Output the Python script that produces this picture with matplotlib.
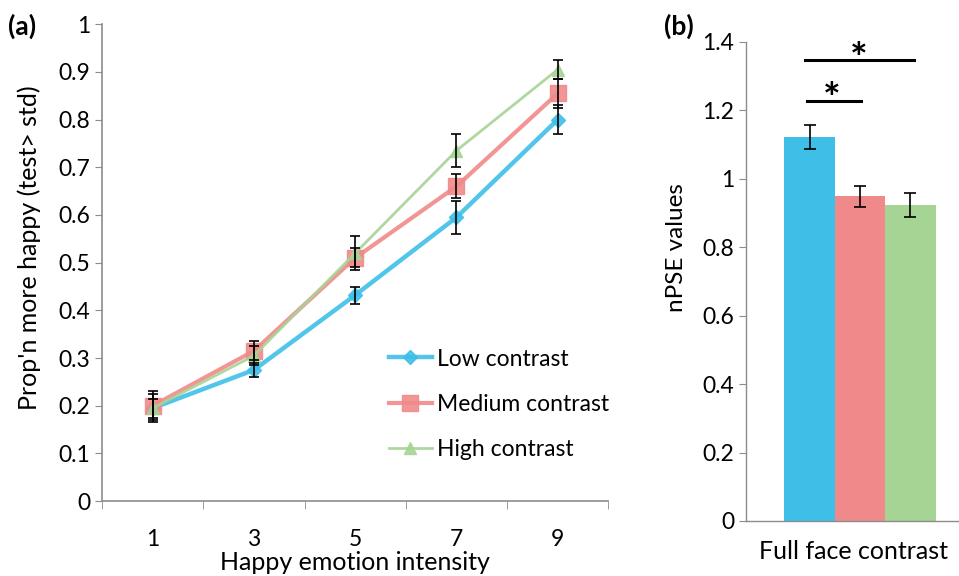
import matplotlib.pyplot as plt

plt.rcParams['font.family'] = ['Lato', 'DejaVu Sans']

# panel (a) data
intensity = ["1", "3", "5", "7", "9"]
low = [0.195, 0.275, 0.432, 0.595, 0.800]
low_err = [0.030, 0.015, 0.018, 0.035, 0.030]
medium = [0.200, 0.315, 0.510, 0.660, 0.855]
medium_err = [0.030, 0.020, 0.020, 0.025, 0.030]
high = [0.195, 0.305, 0.520, 0.735, 0.905]
high_err = [0.020, 0.020, 0.035, 0.035, 0.020]

# panel (b) data
conditions = ["Low contrast", "Medium contrast", "High contrast"]
npse = [1.123, 0.948, 0.922]
npse_err = [0.035, 0.030, 0.035]

blue = "#3EBFE8"
red = "#F08A8A"
green = "#A6D495"
axis_grey = "#8c8c8c"

fig = plt.figure(figsize=(9.59, 5.76), dpi=100)

# ---- panel (a)
ax = fig.add_axes([0.1064, 0.130, 0.528, 0.828])
xs = list(range(1, len(intensity) + 1))
series = [
    (low, low_err, blue, "D", 7, 3.2, "Low contrast"),
    (medium, medium_err, red, "s", 12, 3.0, "Medium contrast"),
    (high, high_err, green, "^", 9, 2.0, "High contrast"),
]
for vals, errs, col, mk, ms, lw, lab in series:
    ax.plot(xs, vals, color=col, marker=mk, markersize=ms, linewidth=lw,
            label=lab, alpha=0.9, zorder=2)
    ax.errorbar(xs, vals, yerr=errs, fmt="none", ecolor="black",
                elinewidth=1.2, capsize=3.5, capthick=1.2, zorder=3)

ax.set_xlim(0.5, len(intensity) + 0.5)
ax.set_ylim(0, 1)
ax.set_yticks([i / 10 for i in range(11)])
ax.set_yticklabels(["0"] + [f"{i / 10:.1f}" for i in range(1, 10)] + ["1"])
ax.set_xticks(xs)
ax.set_xticklabels(intensity)
ax.set_xticks([x + 0.5 for x in range(0, len(intensity) + 1)], minor=True)
ax.tick_params(axis="x", which="major", length=0, pad=20, labelsize=16.5)
ax.tick_params(axis="x", which="minor", length=6, color=axis_grey, direction="out")
ax.tick_params(axis="y", length=5, color=axis_grey, labelsize=16.5)
for s in ("top", "right"):
    ax.spines[s].set_visible(False)
for s in ("left", "bottom"):
    ax.spines[s].set_color(axis_grey)
    ax.spines[s].set_linewidth(1.2)
ax.set_xlabel("Happy emotion intensity", fontsize=18, labelpad=1)
ax.set_ylabel("Prop'n more happy (test> std)", fontsize=18)
ax.yaxis.set_label_coords(-0.12, 0.532)
ax.legend(loc="upper left", bbox_to_anchor=(0.566, 0.32), frameon=False,
          fontsize=16.5, handlelength=1.9, labelspacing=1.05, handletextpad=0.2,
          borderaxespad=0, borderpad=0)

# ---- panel (b)
bx = fig.add_axes([0.778, 0.0955, 0.225, 0.832])
bx_pos = [-1, 0, 1]
bx.bar(bx_pos, npse, width=1.0, color=[blue, red, green], zorder=2)
bx.errorbar(bx_pos, npse, yerr=npse_err, fmt="none", ecolor="black",
            elinewidth=1.2, capsize=4.5, capthick=1.2, zorder=3)
bx.set_xlim(-2.26, 2.02)
bx.set_ylim(0, 1.4)
bx.set_yticks([0, 0.2, 0.4, 0.6, 0.8, 1.0, 1.2, 1.4])
bx.set_yticklabels(["0", "0.2", "0.4", "0.6", "0.8", "1", "1.2", "1.4"])
bx.set_xticks([])
bx.tick_params(axis="y", length=5, color=axis_grey, labelsize=16.5)
for s in ("top", "right"):
    bx.spines[s].set_visible(False)
for s in ("left", "bottom"):
    bx.spines[s].set_color(axis_grey)
    bx.spines[s].set_linewidth(1.0)
bx.set_xlabel("Full face contrast", fontsize=18, labelpad=14)
bx.set_ylabel("nPSE values", fontsize=17.5)
bx.yaxis.set_label_coords(-0.273, 0.57)

# significance markers
bx.plot([-1.1, 1.08], [1.348, 1.348], color="black", linewidth=2.2, clip_on=False)
bx.text(-0.02, 1.31, "*", ha="center", va="baseline", fontsize=30, fontweight="bold")
bx.plot([-1.06, 0.02], [1.228, 1.228], color="black", linewidth=2.2, clip_on=False)
bx.text(-0.56, 1.193, "*", ha="center", va="baseline", fontsize=30, fontweight="bold")

# panel letters
fig.text(0.008, 0.955, "(a)", fontsize=19, fontweight="bold", va="center")
fig.text(0.692, 0.955, "(b)", fontsize=19, fontweight="bold", va="center")

fig.savefig("out.png", dpi=100)
